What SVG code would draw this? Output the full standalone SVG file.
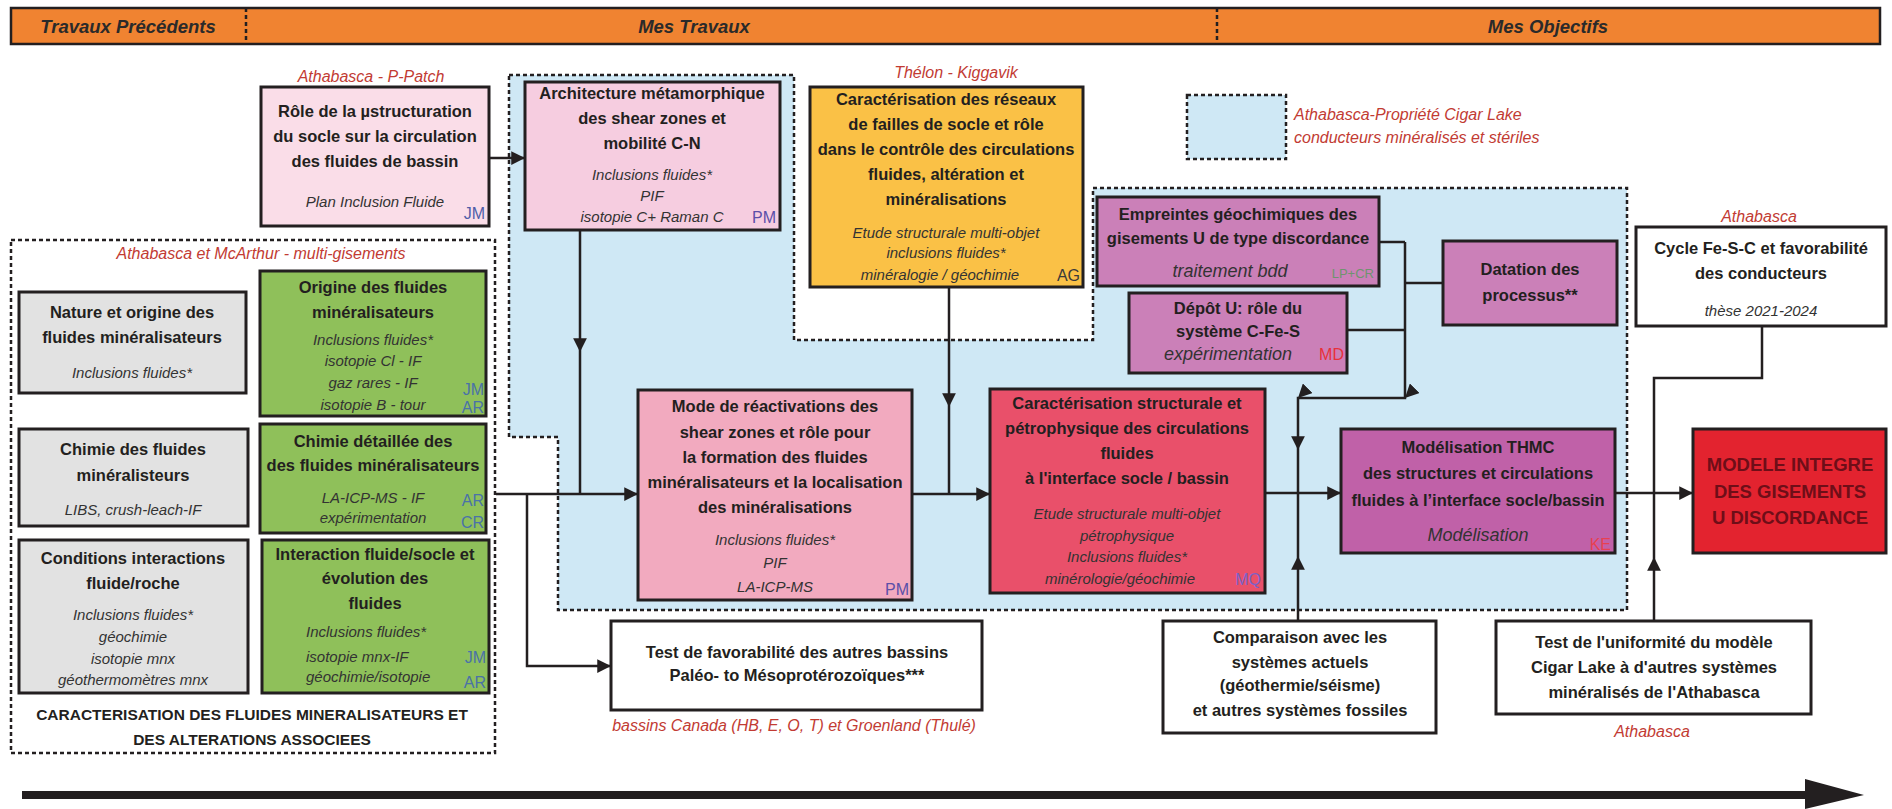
<svg xmlns="http://www.w3.org/2000/svg" width="1892" height="809" viewBox="0 0 1892 809">
<defs>
<style>
text{font-family:"Liberation Sans",Arial,sans-serif;}
.box{stroke:#231f20;stroke-width:3;}
.b{font-weight:bold;font-size:16.5px;fill:#231f20;text-anchor:middle;}
.i{font-style:italic;font-size:15px;fill:#333;text-anchor:middle;}
.il{font-style:italic;font-size:15px;fill:#333;text-anchor:start;}
.ib{font-style:italic;font-size:18px;fill:#333;text-anchor:middle;}
.lbl{font-style:italic;font-size:16px;fill:#C23B33;text-anchor:middle;}
.ini{font-size:16px;text-anchor:end;}
.hdr{font-weight:bold;font-style:italic;font-size:18.5px;fill:#2a2a2a;text-anchor:middle;}
.cap{font-weight:bold;font-size:15.5px;fill:#231f20;text-anchor:middle;}
.dash{fill:none;stroke:#231f20;stroke-width:2.5;stroke-dasharray:4 3;}
.blue{fill:#CFE8F5;stroke:#231f20;stroke-width:2.5;stroke-dasharray:4 3;}
.ln{fill:none;stroke:#231f20;stroke-width:2.5;}
</style>
<marker id="ah" viewBox="0 0 10 10" refX="10" refY="5" markerWidth="5.5" markerHeight="5.5" orient="auto" markerUnits="strokeWidth">
<path d="M0,0 L10,5 L0,10 z" fill="#231f20"/>
</marker>
</defs>
<rect width="1892" height="809" fill="#ffffff"/>

<g id="header">
<rect x="11" y="8" width="1869" height="36" fill="#F08331" stroke="#231f20" stroke-width="2.5"/>
<line x1="246" y1="8" x2="246" y2="44" class="dash"/>
<line x1="1217" y1="8" x2="1217" y2="44" class="dash"/>
<text x="128" y="33" class="hdr">Travaux Précédents</text>
<text x="694" y="33" class="hdr">Mes Travaux</text>
<text x="1548" y="33" class="hdr">Mes Objectifs</text>
</g>

<g id="region-cigar-lake">
<path d="M509,75 L794,75 L794,340 L1093,340 L1093,188 L1627,188 L1627,610 L558,610 L558,437 L509,437 Z" class="blue"/>
</g>

<g id="region-mcarthur">
<rect x="11" y="240" width="484" height="513" class="dash"/>
<text x="261" y="259" class="lbl">Athabasca et McArthur - multi-gisements</text>
<text x="252" y="720" class="cap">CARACTERISATION DES FLUIDES MINERALISATEURS ET</text>
<text x="252" y="745" class="cap">DES ALTERATIONS ASSOCIEES</text>
</g>

<g id="legend">
<rect x="1187" y="95" width="99" height="64" class="blue"/>
<text x="1294" y="120" class="lbl" style="text-anchor:start">Athabasca-Propriété Cigar Lake</text>
<text x="1294" y="143" class="lbl" style="text-anchor:start">conducteurs minéralisés et stériles</text>
</g>

<g id="connectors">
<line x1="489" y1="158" x2="525" y2="158" class="ln" marker-end="url(#ah)"/>
<polyline points="580,230 580,352 580,494" class="ln" marker-mid="url(#ah)"/>
<polyline points="949,287 949,407 949,494" class="ln" marker-mid="url(#ah)"/>
<line x1="496" y1="494" x2="638" y2="494" class="ln" marker-end="url(#ah)"/>
<polyline points="527,494 527,666 611,666" class="ln" marker-end="url(#ah)"/>
<line x1="912" y1="494" x2="990" y2="494" class="ln" marker-end="url(#ah)"/>
<line x1="1265" y1="493" x2="1341" y2="493" class="ln" marker-end="url(#ah)"/>
<line x1="1379" y1="242" x2="1405" y2="242" class="ln"/>
<line x1="1347" y1="330" x2="1405" y2="330" class="ln"/>
<line x1="1405" y1="283" x2="1443" y2="283" class="ln"/>
<polyline points="1405,242 1405,398 1298,398 1298,450 1298,493" class="ln" marker-mid="url(#ah)"/>
<polyline points="1298,621 1298,556 1298,493" class="ln" marker-mid="url(#ah)"/>
<line x1="1615" y1="493" x2="1693" y2="493" class="ln" marker-end="url(#ah)"/>
<polyline points="1762,326 1762,378 1654,378 1654,493" class="ln"/>
<polyline points="1654,621 1654,557 1654,493" class="ln" marker-mid="url(#ah)"/>
</g>

<g id="timeline-arrow">
<line x1="22" y1="795" x2="1810" y2="795" stroke="#231f20" stroke-width="8"/>
<path d="M1805,779 L1864,795 L1805,809 Z" fill="#231f20"/>
</g>

<g id="node-ppatch">
<text x="371" y="82" class="lbl">Athabasca - P-Patch</text>
<rect x="261" y="87" width="228" height="139" fill="#FADDE8" class="box"/>
<text x="375" y="117" class="b">Rôle de la µstructuration</text>
<text x="375" y="142" class="b">du socle sur la circulation</text>
<text x="375" y="167" class="b">des fluides de bassin</text>
<text x="375" y="207" class="i">Plan Inclusion Fluide</text>
<text x="485" y="219" class="ini" fill="#4F5DA8">JM</text>
</g>

<g id="node-arch">
<rect x="525" y="82" width="255" height="148" fill="#F6CDE0" class="box"/>
<text x="652" y="99" class="b">Architecture métamorphique</text>
<text x="652" y="124" class="b">des shear zones et</text>
<text x="652" y="149" class="b">mobilité C-N</text>
<text x="652" y="180" class="i">Inclusions fluides*</text>
<text x="652" y="201" class="i">PIF</text>
<text x="652" y="222" class="i">isotopie C+ Raman C</text>
<text x="776" y="223" class="ini" fill="#5B4FA8">PM</text>
</g>

<g id="node-thelon">
<text x="956" y="78" class="lbl">Thélon - Kiggavik</text>
<rect x="810" y="87" width="273" height="200" fill="#FAC146" class="box"/>
<text x="946" y="105" class="b">Caractérisation des réseaux</text>
<text x="946" y="130" class="b">de failles de socle et rôle</text>
<text x="946" y="155" class="b">dans le contrôle des circulations</text>
<text x="946" y="180" class="b">fluides, altération et</text>
<text x="946" y="205" class="b">minéralisations</text>
<text x="946" y="238" class="i">Etude structurale multi-objet</text>
<text x="946" y="258" class="i">inclusions fluides*</text>
<text x="940" y="280" class="i">minéralogie / géochimie</text>
<text x="1080" y="281" class="ini" fill="#3a3a3a">AG</text>
</g>

<g id="node-grey1">
<rect x="19" y="292" width="227" height="101" fill="#E2E2E2" class="box"/>
<text x="132" y="318" class="b">Nature et origine des</text>
<text x="132" y="343" class="b">fluides minéralisateurs</text>
<text x="132" y="378" class="i">Inclusions fluides*</text>
</g>

<g id="node-green1">
<rect x="260" y="271" width="226" height="145" fill="#8FC05A" class="box"/>
<text x="373" y="293" class="b">Origine des fluides</text>
<text x="373" y="318" class="b">minéralisateurs</text>
<text x="373" y="345" class="i">Inclusions fluides*</text>
<text x="373" y="366" class="i">isotopie Cl - IF</text>
<text x="373" y="388" class="i">gaz rares - IF</text>
<text x="373" y="410" class="i">isotopie B - tour</text>
<text x="484" y="395" class="ini" fill="#4A72A8">JM</text>
<text x="484" y="413" class="ini" fill="#4A72A8">AR</text>
</g>

<g id="node-grey2">
<rect x="19" y="429" width="229" height="97" fill="#E2E2E2" class="box"/>
<text x="133" y="455" class="b">Chimie des fluides</text>
<text x="133" y="481" class="b">minéralisteurs</text>
<text x="133" y="515" class="i">LIBS, crush-leach-IF</text>
</g>

<g id="node-green2">
<rect x="260" y="424" width="226" height="109" fill="#8FC05A" class="box"/>
<text x="373" y="447" class="b">Chimie détaillée des</text>
<text x="373" y="471" class="b">des fluides minéralisateurs</text>
<text x="373" y="503" class="i">LA-ICP-MS - IF</text>
<text x="373" y="523" class="i">expérimentation</text>
<text x="484" y="506" class="ini" fill="#4A72A8">AR</text>
<text x="484" y="528" class="ini" fill="#4A72A8">CR</text>
</g>

<g id="node-grey3">
<rect x="19" y="540" width="229" height="153" fill="#E2E2E2" class="box"/>
<text x="133" y="564" class="b">Conditions interactions</text>
<text x="133" y="589" class="b">fluide/roche</text>
<text x="133" y="620" class="i">Inclusions fluides*</text>
<text x="133" y="642" class="i">géochimie</text>
<text x="133" y="664" class="i">isotopie mnx</text>
<text x="133" y="685" class="i">géothermomètres mnx</text>
</g>

<g id="node-green3">
<rect x="262" y="540" width="227" height="153" fill="#8FC05A" class="box"/>
<text x="375" y="560" class="b">Interaction fluide/socle et</text>
<text x="375" y="584" class="b">évolution des</text>
<text x="375" y="609" class="b">fluides</text>
<text x="306" y="637" class="il">Inclusions fluides*</text>
<text x="306" y="662" class="il">isotopie mnx-IF</text>
<text x="306" y="682" class="il">géochimie/isotopie</text>
<text x="486" y="663" class="ini" fill="#4A72A8">JM</text>
<text x="486" y="688" class="ini" fill="#4A72A8">AR</text>
</g>

<g id="node-mode">
<rect x="638" y="390" width="274" height="210" fill="#F2AABF" class="box"/>
<text x="775" y="412" class="b">Mode de réactivations des</text>
<text x="775" y="438" class="b">shear zones et rôle pour</text>
<text x="775" y="463" class="b">la formation des fluides</text>
<text x="775" y="488" class="b">minéralisateurs et la localisation</text>
<text x="775" y="513" class="b">des minéralisations</text>
<text x="775" y="545" class="i">Inclusions fluides*</text>
<text x="775" y="568" class="i">PIF</text>
<text x="775" y="592" class="i">LA-ICP-MS</text>
<text x="909" y="595" class="ini" fill="#5B4FA8">PM</text>
</g>

<g id="node-caract">
<rect x="990" y="389" width="275" height="204" fill="#E9506A" class="box"/>
<text x="1127" y="409" class="b">Caractérisation structurale et</text>
<text x="1127" y="434" class="b">pétrophysique des circulations</text>
<text x="1127" y="459" class="b">fluides</text>
<text x="1127" y="484" class="b">à l'interface socle / bassin</text>
<text x="1127" y="519" class="i">Etude structurale multi-objet</text>
<text x="1127" y="541" class="i">pétrophysique</text>
<text x="1127" y="562" class="i">Inclusions fluides*</text>
<text x="1120" y="584" class="i">minérologie/géochimie</text>
<text x="1261" y="585" class="ini" fill="#7B62C8">MQ</text>
</g>

<g id="node-empreintes">
<rect x="1097" y="197" width="282" height="89" fill="#CB80B8" class="box"/>
<text x="1238" y="220" class="b">Empreintes géochimiques des</text>
<text x="1238" y="244" class="b">gisements U de type discordance</text>
<text x="1230" y="277" class="ib">traitement bdd</text>
<text x="1374" y="278" class="ini" style="font-size:13px" fill="#6F946F">LP+CR</text>
</g>

<g id="node-depot">
<rect x="1129" y="293" width="218" height="80" fill="#CB80B8" class="box"/>
<text x="1238" y="314" class="b">Dépôt U: rôle du</text>
<text x="1238" y="337" class="b">système C-Fe-S</text>
<text x="1228" y="360" class="ib">expérimentation</text>
<text x="1344" y="360" class="ini" fill="#E8303A">MD</text>
</g>

<g id="node-datation">
<rect x="1443" y="241" width="174" height="84" fill="#CB80B8" class="box"/>
<text x="1530" y="275" class="b">Datation des</text>
<text x="1530" y="301" class="b">processus**</text>
</g>

<g id="node-modelisation">
<rect x="1341" y="429" width="274" height="124" fill="#C061A8" class="box"/>
<text x="1478" y="453" class="b">Modélisation THMC</text>
<text x="1478" y="479" class="b">des structures et circulations</text>
<text x="1478" y="506" class="b">fluides à l’interface socle/bassin</text>
<text x="1478" y="541" class="ib">Modélisation</text>
<text x="1611" y="550" class="ini" fill="#E84050">KE</text>
</g>

<g id="node-cycle">
<text x="1759" y="222" class="lbl">Athabasca</text>
<rect x="1636" y="227" width="250" height="99" fill="#ffffff" class="box"/>
<text x="1761" y="254" class="b">Cycle Fe-S-C et favorabilité</text>
<text x="1761" y="279" class="b">des conducteurs</text>
<text x="1761" y="316" class="i">thèse 2021-2024</text>
</g>

<g id="node-modele">
<rect x="1693" y="429" width="193" height="124" fill="#E3232F" class="box"/>
<text x="1790" y="471" class="b" style="font-size:18.5px;fill:#6E0E18">MODELE INTEGRE</text>
<text x="1790" y="498" class="b" style="font-size:18.5px;fill:#6E0E18">DES GISEMENTS</text>
<text x="1790" y="524" class="b" style="font-size:18.5px;fill:#6E0E18">U DISCORDANCE</text>
</g>

<g id="node-test-bassins">
<rect x="611" y="621" width="371" height="89" fill="#ffffff" class="box"/>
<text x="797" y="658" class="b">Test de favorabilité des autres bassins</text>
<text x="797" y="681" class="b">Paléo- to Mésoprotérozoïques***</text>
<text x="794" y="731" class="lbl">bassins Canada (HB, E, O, T) et Groenland (Thulé)</text>
</g>

<g id="node-comparaison">
<rect x="1163" y="621" width="273" height="112" fill="#ffffff" class="box"/>
<text x="1300" y="643" class="b">Comparaison avec les</text>
<text x="1300" y="668" class="b">systèmes actuels</text>
<text x="1300" y="691" class="b">(géothermie/séisme)</text>
<text x="1300" y="716" class="b">et autres systèmes fossiles</text>
</g>

<g id="node-test-uniformite">
<rect x="1496" y="621" width="315" height="93" fill="#ffffff" class="box"/>
<text x="1654" y="648" class="b">Test de l'uniformité du modèle</text>
<text x="1654" y="673" class="b">Cigar Lake à d'autres systèmes</text>
<text x="1654" y="698" class="b">minéralisés de l'Athabasca</text>
<text x="1652" y="737" class="lbl">Athabasca</text>
</g>
</svg>
